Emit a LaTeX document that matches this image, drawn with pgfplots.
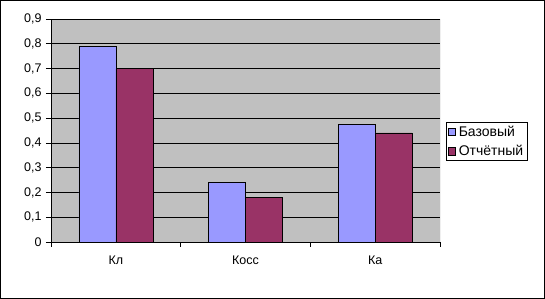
\documentclass[border=0pt]{standalone}
\usepackage{pgfplots}
\pgfplotsset{compat=1.18}
\usepackage{fontspec}
\setmainfont{Liberation Sans}
\definecolor{silv}{HTML}{C0C0C0}
\definecolor{bblue}{HTML}{9999FF}
\definecolor{mar}{HTML}{993366}
\begin{document}
\begin{tikzpicture}
\begin{axis}[
  name=ax, at={(0pt,0pt)}, anchor=south west,
  scale only axis, width=389pt, height=223pt,
  ymin=0, ymax=0.9, ytick={0,0.1,...,0.9},
  xmin=-0.5, xmax=2.5,
  xtick={0,1,2}, xticklabels={Кл,Косс,Ка},
  minor xtick={-0.5,0.5,1.5,2.5},
  major x tick style={draw=none},
  x tick label style={yshift=-5pt},
  y tick label style={xshift=-1pt},
  tick align=outside,
  major tick length=5pt, minor tick length=5pt,
  tick style={black, line width=0.6pt},
  axis x line*=bottom, axis y line*=left,
  axis line style={black, line width=0.8pt, -},
  ymajorgrids, grid style={black, line width=0.6pt},
  axis background/.style={fill=silv},
  ybar=0pt, bar width=37pt,
  every tick label/.append style={font=\fontsize{12.5}{14}\selectfont},
  /pgf/number format/.cd, use comma, fixed, precision=1, assume math mode=true,
  /pgfplots/.cd,
  legend style={at={(1.0154,0.45)}, anchor=west, draw=black, line width=0.6pt,
    font=\fontsize{14}{16}\selectfont, inner sep=1.5pt, row sep=3.5pt,
    nodes={inner xsep=3pt},
    legend cell align=left},
  legend image code/.code={\draw[#1, draw=black, line width=0.5pt] (0pt,-3.5pt) rectangle (7.5pt,4pt);},
]
\addplot[fill=bblue, draw=black, line width=0.6pt] coordinates {(0,0.79) (1,0.24) (2,0.475)};
\addplot[fill=mar, draw=black, line width=0.6pt] coordinates {(0,0.70) (1,0.18) (2,0.44)};
\legend{Базовый, Отчётный}
\draw[gray, line width=0.6pt] (rel axis cs:1,0) -- (rel axis cs:1,1);
\end{axis}
\draw[black, line width=0.8pt] (-50.6pt,-56.6pt) rectangle (493.6pt,241.6pt);
\end{tikzpicture}
\end{document}
